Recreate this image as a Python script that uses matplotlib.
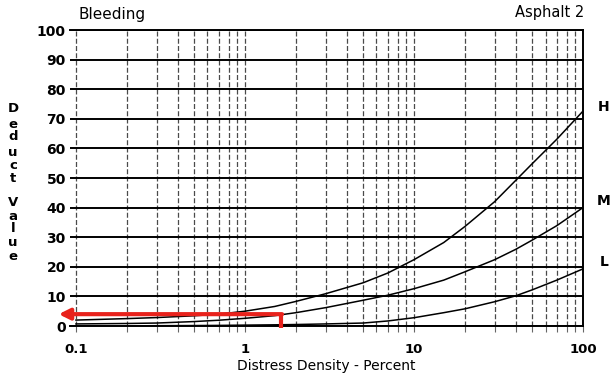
import matplotlib
matplotlib.use("Agg")
import matplotlib.pyplot as plt
from matplotlib.ticker import LogLocator, NullFormatter, FixedLocator

# ---- data ----
density = [0.1, 0.2, 0.3, 0.5, 0.7, 1, 1.5, 2, 3, 5, 7, 10, 15, 20, 30, 40, 50, 70, 100]
deduct_H = [2.0, 2.5, 2.85, 3.45, 4.0, 5.0, 6.6, 8.3, 10.9, 14.6, 17.9, 22.4, 28.2, 33.6,
            42.0, 49.2, 54.8, 63.1, 72.6]
deduct_M = [0.7, 0.85, 1.0, 1.5, 1.95, 2.6, 3.5, 4.5, 6.2, 8.7, 10.4, 12.6, 15.5, 18.3,
            22.4, 25.9, 29.0, 33.9, 40.0]
deduct_L = [0.0, 0.05, 0.1, 0.15, 0.2, 0.3, 0.4, 0.5, 0.7, 1.0, 1.7, 2.8, 4.5, 5.8,
            8.2, 10.2, 12.2, 15.5, 19.3]
severity_labels = ["H", "M", "L"]

x_ticks = [0.1, 1, 10, 100]
x_tick_labels = ["0.1", "1", "10", "100"]
y_ticks = [0, 10, 20, 30, 40, 50, 60, 70, 80, 90, 100]

# red example arrow: density 1.64 % -> deduct value 4
example_density = 1.64
example_deduct = 4.0

title_left = "Bleeding"
title_right = "Asphalt 2"
x_label = "Distress Density - Percent"
y_label_words = ["Deduct", "Value"]

W, H = 611, 376
fig = plt.figure(figsize=(W / 100, H / 100), dpi=100)
fig.patch.set_facecolor("white")

ax_left, ax_right, ax_top, ax_bot = 70, 583, 30, 326
ax = fig.add_axes([ax_left / W, 1 - ax_bot / H, (ax_right - ax_left) / W, (ax_bot - ax_top) / H])
ax.set_xscale("log")
ax.set_xlim(0.0922, 100)
ax.set_ylim(0, 100)

# curves
for yvals in (deduct_H, deduct_M, deduct_L):
    ax.plot(density, yvals, color="black", lw=1.1, zorder=4)

# grid
ax.xaxis.set_major_locator(FixedLocator(x_ticks))
ax.xaxis.set_minor_locator(LogLocator(base=10, subs=range(2, 10)))
ax.xaxis.set_minor_formatter(NullFormatter())
ax.set_xticks(x_ticks)
ax.set_xticklabels(x_tick_labels)
ax.set_yticks(y_ticks)
ax.xaxis.grid(True, which="both", ls=(0, (4, 1.8)), color="#4a4a4a", lw=0.9, zorder=1)
ax.yaxis.grid(True, which="major", color="black", lw=1.4, zorder=2)
ax.set_axisbelow(True)

for side in ("top", "bottom", "right"):
    ax.spines[side].set_color("black")
    ax.spines[side].set_linewidth(1.4)
ax.spines["left"].set_visible(False)

ax.tick_params(axis="x", which="both", direction="out", length=4, width=0.8,
               color="#666666", pad=8)
ax.tick_params(axis="y", which="both", length=0, pad=3)
for lab in ax.get_xticklabels():
    lab.set_fontfamily("DejaVu Sans")
    lab.set_fontweight("bold")
    lab.set_fontsize(9.5)
for lab in ax.get_yticklabels():
    lab.set_fontfamily("DejaVu Sans")
    lab.set_fontweight("bold")
    lab.set_fontsize(10)

# red arrow
red = "#e8221c"
ax.plot([example_density, example_density], [-0.6, example_deduct], color=red,
        lw=3.0, solid_capstyle="butt", zorder=6, clip_on=False)
ax.annotate("", xy=(0.079, example_deduct), xytext=(example_density * 1.01, example_deduct),
            arrowprops=dict(arrowstyle="-|>", color=red, lw=3.0, mutation_scale=16,
                            shrinkA=0, shrinkB=0),
            annotation_clip=False, zorder=6)

def ft(x, y, s, **kw):
    fig.text(x / W, 1 - y / H, s, **kw)

ft(78, 15, title_left, fontsize=11, fontfamily="DejaVu Sans", va="center", ha="left")
ft(584, 13, title_right, fontsize=10.5, fontfamily="DejaVu Sans", va="center", ha="right")
ft(326, 366, x_label, fontsize=10, fontfamily="DejaVu Sans", va="center", ha="center")

# vertical stacked y-label
letter_y = [[108, 124, 137, 152, 166, 179], [203, 216, 229, 243, 256]]
for word, ys in zip(y_label_words, letter_y):
    for ch, yy in zip(word, ys):
        ft(13, yy, ch, fontsize=9.5, fontweight="bold", fontfamily="DejaVu Sans",
           va="center", ha="center")

# severity labels at curve ends
for lab, yy in zip(severity_labels, (107, 201, 262)):
    ft(604, yy, lab, fontsize=10, fontweight="bold", fontfamily="DejaVu Sans",
       va="center", ha="center")

fig.savefig("out.png", dpi=100)
